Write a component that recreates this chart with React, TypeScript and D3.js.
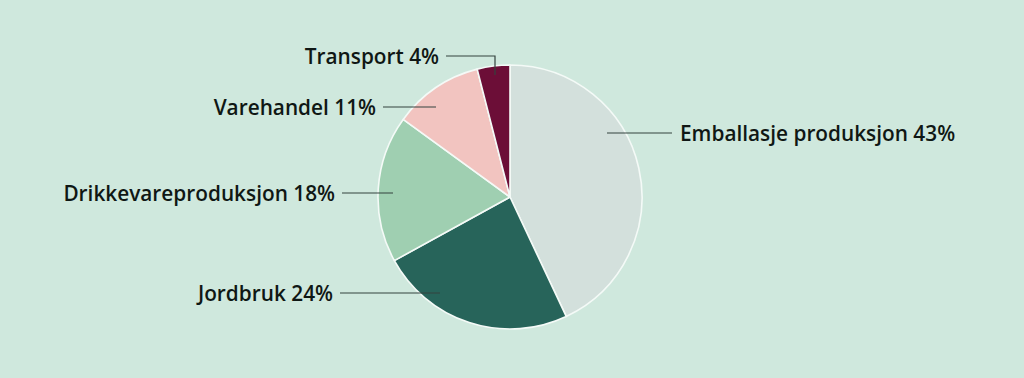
import React from "react";
import * as d3 from "d3";

const categories = ["Emballasje produksjon", "Jordbruk", "Drikkevareproduksjon", "Varehandel", "Transport"];
const values = [43, 24, 18, 11, 4];
const colors = ["#d3e0dc", "#27645a", "#9fcfb1", "#f2c4c0", "#6c0e37"];

// label layout: inner anchor point (relative to centre), line end x, text side
const labelLayout = [
  { ax: 97, ay: -64, lx: 672, side: "right", elbow: false },
  { ax: -70, ay: 96, lx: 340, side: "left", elbow: false },
  { ax: -117, ay: -4, lx: 342, side: "left", elbow: false },
  { ax: -74, ay: -90, lx: 383, side: "left", elbow: false },
  { ax: -15, ay: -122, lx: 446, side: "left", elbow: true, ey: -141 },
];

const W = 1024;
const H = 378;
const cx = 510;
const cy = 197;
const R = 132;

export default function App() {
  React.useEffect(() => {
    document.body.style.margin = "0";
  }, []);
  const pie = d3.pie<number>().sort(null).value((d) => d)(values);
  const arc = d3.arc<d3.PieArcDatum<number>>().innerRadius(0).outerRadius(R);
  const font = "'Open Sans', sans-serif";
  return (
    <svg width={W} height={H} style={{ display: "block", background: "#cfe8dd" }}>
      <rect width={W} height={H} fill="#cfe8dd" />
      <g transform={`translate(${cx},${cy})`}>
        {pie.map((p, i) => (
          <path key={i} d={arc(p) || ""} fill={colors[i]} stroke="#f4faf7" strokeWidth={1.6} strokeLinejoin="round" />
        ))}
      </g>
      {pie.map((p, i) => {
        const L = labelLayout[i];
        const ax = cx + L.ax;
        const ay = cy + L.ay;
        const ly = L.elbow ? cy + (L.ey as number) : ay;
        const pts = L.elbow
          ? `${L.lx},${ly} ${ax},${ly} ${ax},${ay}`
          : `${L.lx},${ly} ${ax},${ay}`;
        const tx = L.side === "right" ? L.lx + 8 : L.lx - 7;
        const text = `${categories[i]} ${values[i]}%`;
        return (
          <g key={i}>
            <polyline points={pts} fill="none" stroke="#34423e" strokeWidth={1.2} />
            <text
              x={tx}
              y={ly + 7.5}
              textAnchor={L.side === "right" ? "start" : "end"}
              fontFamily={font}
              fontWeight={600}
              fontSize={20.8}
              fill="#0f1714"
            >
              {text}
            </text>
          </g>
        );
      })}
    </svg>
  );
}
